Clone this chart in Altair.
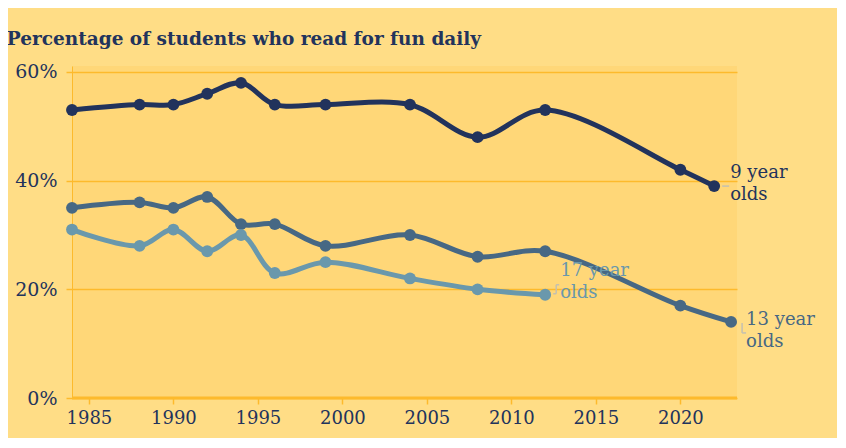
import altair as alt
import pandas as pd

# --- data ---
years_9 = [1984, 1988, 1990, 1992, 1994, 1996, 1999, 2004, 2008, 2012, 2020, 2022]
vals_9 = [53, 54, 54, 56, 58, 54, 54, 54, 48, 53, 42, 39]

years_13 = [1984, 1988, 1990, 1992, 1994, 1996, 1999, 2004, 2008, 2012, 2020, 2023]
vals_13 = [35, 36, 35, 37, 32, 32, 28, 30, 26, 27, 17, 14]

years_17 = [1984, 1988, 1990, 1992, 1994, 1996, 1999, 2004, 2008, 2012]
vals_17 = [31, 28, 31, 27, 30, 23, 25, 22, 20, 19]

series_names = ["9 year olds", "13 year olds", "17 year olds"]
series_colors = ["#22335C", "#476884", "#6A98AC"]
y_ticks = [0, 20, 40, 60]
x_ticks = [1985, 1990, 1995, 2000, 2005, 2010, 2015, 2020]

rows = []
for name, ys, vs in zip(series_names, [years_9, years_13, years_17], [vals_9, vals_13, vals_17]):
    for y, v in zip(ys, vs):
        rows.append({"series": name, "year": y, "value": v})
df = pd.DataFrame(rows)

last = df.loc[df.groupby("series")["year"].idxmax()].copy()
last["label"] = last["series"].map({"9 year olds": ["9 year", "olds"],
                                     "13 year olds": ["13 year", "olds"],
                                     "17 year olds": ["17 year", "olds"]})

FONT = "DejaVu Serif"
GRID = "#FDBA2C"
INK = "#22335C"
CONNECTOR = "#C4C0B0"

x = alt.X("year:Q", scale=alt.Scale(domain=[1984, 2023.35], nice=False, zero=False),
          axis=alt.Axis(values=x_ticks, format="d", title=None, grid=False,
                        domain=False, ticks=True, tickColor=GRID, tickSize=6, tickWidth=1.5,
                        labelFont=FONT, labelFontSize=18, labelColor=INK, labelPadding=5))
y = alt.Y("value:Q", scale=alt.Scale(domain=[0, 61.1], nice=False),
          axis=alt.Axis(values=y_ticks, title=None, labelExpr="datum.value + '%'",
                        grid=True, gridColor=GRID, gridWidth=1.5,
                        domain=True, domainColor=GRID, domainWidth=1,
                        ticks=True, tickColor=GRID, tickSize=6, tickWidth=1.5,
                        labelFont=FONT, labelFontSize=19, labelColor=INK, labelPadding=9))
color = alt.Color("series:N", scale=alt.Scale(domain=series_names, range=series_colors), legend=None)

base = alt.Chart(df)

lines = base.mark_line(interpolate="catmull-rom", strokeWidth=5).encode(x=x, y=y, color=color, detail="series:N")
points = base.mark_circle(size=140, opacity=1).encode(x=x, y=y, color=color)

baseline = alt.Chart(pd.DataFrame({"v": [0]})).mark_rule(color=GRID, strokeWidth=3).encode(
    y=alt.Y("v:Q", scale=alt.Scale(domain=[0, 61.1], nice=False)))

# small connector strokes between the last point and its label (pixel offsets)
connector_segments = {
    "9 year olds": [(8, 0, 15, 0)],
    "13 year olds": [(11, 1, 11, 11), (11, 11, 15, 11)],
    "17 year olds": [(8, -1, 11, -1), (11, -1, 11, -10), (11, -10, 14, -10)],
}
connector_layers = []
for name in series_names:
    for (x1, y1, x2, y2) in connector_segments[name]:
        connector_layers.append(
            alt.Chart(last[last["series"] == name]).mark_rule(
                color=CONNECTOR, strokeWidth=1.5,
                xOffset=x1, yOffset=y1, x2Offset=x2, y2Offset=y2
            ).encode(x="year:Q", x2="year:Q", y="value:Q", y2="value:Q")
        )

label_layers = []
offsets = {"9 year olds": (16, -22), "13 year olds": (15, -11), "17 year olds": (15, -33)}
for name, col in zip(series_names, series_colors):
    dx, dy = offsets[name]
    label_layers.append(
        alt.Chart(last[last["series"] == name]).mark_text(
            align="left", baseline="top", dx=dx, dy=dy, font=FONT, fontSize=18,
            lineHeight=22, color=col
        ).encode(x=alt.X("year:Q"), y=alt.Y("value:Q"), text="label")
    )

chart = alt.layer(lines, points, baseline, *connector_layers, *label_layers).properties(
    width=665, height=332,
    autosize=alt.AutoSizeParams(type="none"),
    padding={"left": 64, "top": 58, "right": 100, "bottom": 40},
    background="#FFDD86",
    title=alt.TitleParams("Percentage of students who read for fun daily", anchor="start",
                          font=FONT, fontSize=18.5, fontWeight="bold", color=INK, dx=-8, offset=14),
).configure_view(fill="#FFD778", stroke=None)

chart.save("out.html", embed_options={"renderer": "svg", "actions": False})
